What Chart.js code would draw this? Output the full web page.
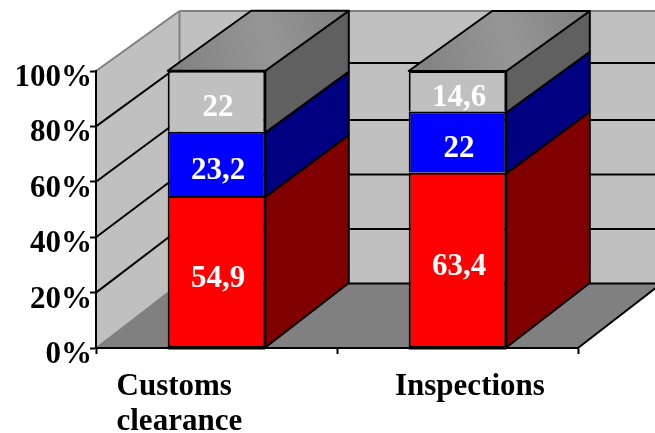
<!DOCTYPE html>
<html>
<head>
<meta charset="utf-8">
<style>
  html, body { margin: 0; padding: 0; background: #fff; }
  canvas { display: block; }
</style>
<script src="https://cdn.jsdelivr.net/npm/chart.js@4"></script>
</head>
<body>
<canvas id="chart" width="655" height="433"></canvas>
<script>
// Share of each stage in total time, per procedure
const categories = ['Customs clearance', 'Inspections'];
const categoryLines = [['Customs', 'clearance'], ['Inspections']];
const bottomSegment = [54.9, 63.4];
const middleSegment = [23.2, 22];
const topSegment = [22, 14.6];
const bottomLabels = ['54,9', '63,4'];
const middleLabels = ['23,2', '22'];
const topLabels = ['22', '14,6'];
const percentTicks = [0, 20, 40, 60, 80, 100];

const FONT = '"Liberation Serif", "Times New Roman", serif';
const FONT_SIZE = 31;
const DEPTH_X = 83.5;      // horizontal shift from front plane to back plane
const RISE_AT_BASE = 64.5; // vertical shift at the 0% level
const RISE_AT_TOP = 60;    // vertical shift at the 100% level
const BACK_GRID_NUDGE = { 80: -2.5 }; // rounding of the 80% line on the back wall

const segments = [
  { front: '#ff0000', side: '#800000', labels: bottomLabels },
  { front: '#0000ff', side: '#000080', labels: middleLabels },
  { front: '#c0c0c0', side: '#606060', labels: topLabels }
];

// Vertical position on the back plane for a front-plane pixel
function backY(y, area) {
  const t = (area.bottom - y) / (area.bottom - area.top);
  return y - (RISE_AT_BASE + (RISE_AT_TOP - RISE_AT_BASE) * t);
}

function polygon(ctx, pts, fill, stroke, width) {
  ctx.beginPath();
  pts.forEach((p, i) => (i ? ctx.lineTo(p[0], p[1]) : ctx.moveTo(p[0], p[1])));
  ctx.closePath();
  if (fill) { ctx.fillStyle = fill; ctx.fill(); }
  if (stroke) { ctx.strokeStyle = stroke; ctx.lineWidth = width; ctx.lineJoin = 'round'; ctx.stroke(); }
}

function line(ctx, x1, y1, x2, y2, color, width) {
  ctx.beginPath();
  ctx.moveTo(x1, y1);
  ctx.lineTo(x2, y2);
  ctx.strokeStyle = color;
  ctx.lineWidth = width;
  ctx.stroke();
}

const box3d = {
  id: 'box3d',
  // Walls, floor and gridlines of the box behind the bars
  beforeDraw(chart) {
    const { ctx, chartArea: a, scales } = chart;
    const yTop = a.top, yBase = a.bottom;
    const bx = a.left + DEPTH_X;
    const bTop = backY(yTop, a), bBase = backY(yBase, a);
    const far = a.right + DEPTH_X;
    ctx.save();
    polygon(ctx, [[a.left, yTop], [bx, bTop], [bx, bBase], [a.left, yBase]], '#c0c0c0');
    polygon(ctx, [[bx, bTop], [far, bTop], [far, bBase], [bx, bBase]], '#c0c0c0');
    polygon(ctx, [[a.left, yBase], [bx, bBase], [far, bBase], [a.right, yBase]], '#808080');
    percentTicks.forEach(v => {
      const y = scales.y.getPixelForValue(v);
      const b = backY(y, a);
      const color = v === 100 || v === 0 ? '#808080' : '#000';
      line(ctx, a.left, y, bx, b, color, v === 0 ? 1.5 : 2);
      const wallY = b + (BACK_GRID_NUDGE[v] || 0);
      line(ctx, bx, wallY, far, wallY, v === 100 ? '#808080' : '#000', 2);
    });
    line(ctx, bx, bTop, bx, bBase, '#808080', 2);
    line(ctx, a.right, yBase, far, bBase, '#000', 2);
    ctx.restore();
  },
  // Side and top faces of the stacked columns
  beforeDatasetsDraw(chart) {
    const { ctx, chartArea: a } = chart;
    const last = segments.length - 1;
    ctx.save();
    segments.forEach((seg, i) => {
      chart.getDatasetMeta(i).data.forEach(bar => {
        const r = bar.x + bar.width / 2;
        // Interior joints sit on the border stroke of the lower segment
        const top = bar.y + (i < last ? 1 : 0);
        const base = bar.base + (i > 0 ? 1 : 0);
        polygon(ctx, [
          [r, top], [r + DEPTH_X, backY(top, a)],
          [r + DEPTH_X, backY(base, a)], [r, base]
        ], seg.side, '#000', 2);
      });
    });
    chart.getDatasetMeta(last).data.forEach(bar => {
      const l = bar.x - bar.width / 2, r = bar.x + bar.width / 2;
      const b = backY(bar.y, a);
      const g = ctx.createLinearGradient(l, bar.y, r + DEPTH_X, b);
      g.addColorStop(0, '#808080');
      g.addColorStop(0.55, '#969696');
      g.addColorStop(1, '#808080');
      polygon(ctx, [[l, bar.y], [r, bar.y], [r + DEPTH_X, b], [l + DEPTH_X, b]], g, '#000', 2);
    });
    ctx.restore();
  },
  // Values on the columns and the category names under the axis
  afterDatasetsDraw(chart) {
    const { ctx, scales } = chart;
    ctx.save();
    // Heavier foot under each column, where it stands on the axis
    chart.getDatasetMeta(0).data.forEach(bar => {
      line(ctx, bar.x - bar.width / 2, bar.base + 0.5, bar.x + bar.width / 2, bar.base + 0.5, '#000', 3);
    });
    ctx.font = 'bold ' + FONT_SIZE + 'px ' + FONT;
    ctx.fillStyle = '#fff';
    ctx.textAlign = 'center';
    ctx.textBaseline = 'alphabetic';
    segments.forEach((seg, i) => {
      chart.getDatasetMeta(i).data.forEach((bar, j) => {
        ctx.fillText(seg.labels[j], bar.x + 1.5, (bar.y + bar.base) / 2 + 15);
      });
    });
    ctx.fillStyle = '#000';
    ctx.textAlign = 'left';
    const labelStart = [-100, -62.5];
    categoryLines.forEach((rows, j) => {
      const x = scales.x.getPixelForValue(j) + labelStart[j];
      rows.forEach((row, k) => ctx.fillText(row, x, 395 + k * 34.5));
    });
    ctx.restore();
  }
};

new Chart(document.getElementById('chart'), {
  type: 'bar',
  plugins: [box3d],
  data: {
    labels: categories,
    datasets: segments.map((seg, i) => ({
      data: [bottomSegment, middleSegment, topSegment][i],
      backgroundColor: seg.front,
      borderColor: '#000',
      borderWidth: 2,
      borderSkipped: i === 0 ? false : 'bottom',
      barPercentage: 1,
      categoryPercentage: 0.405,
      clip: false
    }))
  },
  options: {
    responsive: false,
    animation: false,
    layout: { padding: { top: 71, right: 77, left: 0, bottom: 0 } },
    plugins: { legend: { display: false }, tooltip: { enabled: false } },
    scales: {
      x: {
        stacked: true,
        afterFit(s) { s.height = 85; },
        grid: { drawOnChartArea: false, drawTicks: true, tickLength: 6, tickColor: '#000', tickWidth: 2 },
        border: { color: '#000', width: 2 },
        ticks: { display: false }
      },
      y: {
        stacked: true,
        min: 0,
        max: 100,
        afterFit(s) { s.width = 96; },
        afterBuildTicks(s) { s.ticks = percentTicks.map(value => ({ value })); },
        grid: { drawOnChartArea: false, drawTicks: true, tickLength: 6, tickColor: '#000', tickWidth: 2 },
        border: { color: '#000', width: 2 },
        ticks: {
          padding: -2,
          labelOffset: 7,
          color: '#000',
          font: { family: FONT, size: FONT_SIZE, weight: 'bold' },
          callback: v => v + '%'
        }
      }
    }
  }
});
</script>
</body>
</html>
